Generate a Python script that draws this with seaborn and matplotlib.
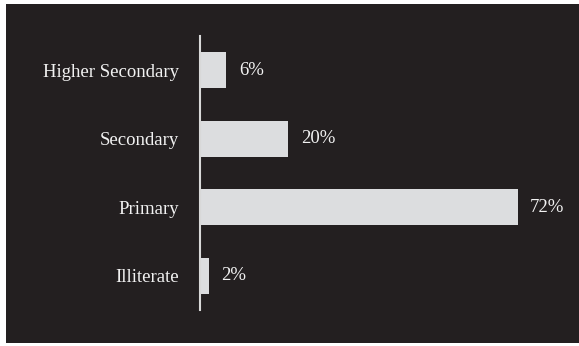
import matplotlib
matplotlib.use("Agg")
import matplotlib.pyplot as plt
from matplotlib.patches import Rectangle
import seaborn as sns
import pandas as pd

# Education levels and their share of respondents (%)
categories = ["Higher Secondary", "Secondary", "Primary", "Illiterate"]
values = [6, 20, 72, 2]
value_labels = ["6%", "20%", "72%", "2%"]

BG = "#231f20"
BAR = "#dcdddf"
TEXT = "#f2f2f2"

sns.set_style("white")
plt.rcParams["font.family"] = ["Liberation Serif", "DejaVu Serif"]

W, H = 579, 346
fig = plt.figure(figsize=(W / 100, H / 100), dpi=100, facecolor="white")

# dark panel behind the chart
fig.patches.append(Rectangle((6 / W, 1 - 343 / H), 1 - 6 / W, (343 - 4) / H,
                             transform=fig.transFigure, facecolor=BG,
                             edgecolor="none", zorder=-10))

ax = fig.add_axes([200 / W, 1 - 310 / H, 352.8 / W, (310 - 36) / H])
ax.set_zorder(5)
ax.set_facecolor("none")
ax.patch.set_alpha(0)

df = pd.DataFrame({"level": categories, "share": values})
sns.barplot(data=df, x="share", y="level", orient="h", color=BAR,
            saturation=1, width=0.53, linewidth=0, edgecolor="none", ax=ax)

ax.bar_label(ax.containers[0], labels=value_labels, padding=9,
             fontsize=13.5, color=TEXT)

ax.set_xlim(0, 80)
ax.set_ylim(3.5, -0.5)
ax.set_xlabel("")
ax.set_ylabel("")
ax.set_xticks([])
ax.tick_params(axis="y", length=0, pad=15, labelsize=13.5, labelcolor=TEXT)

for side in ["top", "right", "bottom"]:
    ax.spines[side].set_visible(False)
ax.spines["left"].set_color("#d8d8d8")
ax.spines["left"].set_linewidth(1.5)
ax.spines["left"].set_zorder(3)

fig.savefig("out.png", dpi=100, facecolor="white")
